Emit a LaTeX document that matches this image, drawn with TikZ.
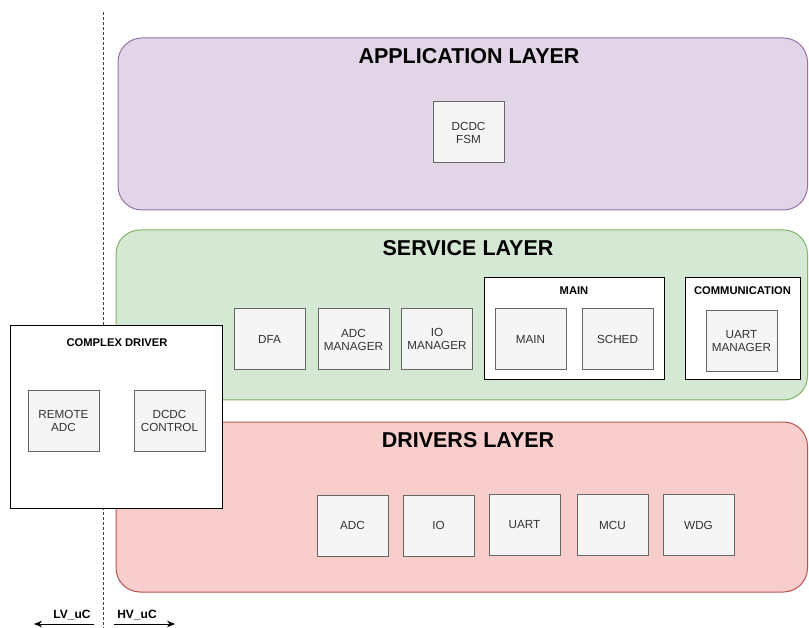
\documentclass[tikz,border=0pt]{standalone}
\usepackage{fontspec}
\setmainfont{Liberation Sans}
\usetikzlibrary{arrows.meta}

\definecolor{appfill}{HTML}{E1D5E7}
\definecolor{appline}{HTML}{9673A6}
\definecolor{srvfill}{HTML}{D5E8D4}
\definecolor{srvline}{HTML}{82B366}
\definecolor{drvfill}{HTML}{F8CECC}
\definecolor{drvline}{HTML}{B85450}
\definecolor{boxfill}{HTML}{F5F5F5}
\definecolor{boxline}{HTML}{666666}
\definecolor{boxtext}{HTML}{333333}
\definecolor{sepline}{HTML}{444444}

\tikzset{
  layer/.style={rounded corners=24pt, line width=1pt, inner sep=0pt},
  layertitle/.style={font=\bfseries\fontsize{21.5}{24}\selectfont, inner sep=0pt},
  unit/.style={draw=boxline, fill=boxfill, line width=1pt, text=boxtext,
    minimum width=71pt, minimum height=61pt, inner sep=0pt, align=center,
    font=\fontsize{11.7}{13}\selectfont},
  group/.style={draw=black, fill=white, line width=1pt, inner sep=0pt},
  grouptitle/.style={font=\bfseries\fontsize{11.2}{13}\selectfont, inner sep=0pt},
  sidelabel/.style={font=\bfseries\fontsize{12}{14}\selectfont, inner sep=0pt, anchor=base},
  sidearrow/.style={-{Stealth[length=8pt,width=6.5pt]}, line width=1pt},
}

\begin{document}
\begin{tikzpicture}[x=1pt,y=-1pt]
\useasboundingbox (0,0) rectangle (809,628);

% boundary between the two microcontrollers
\coordinate (sepTop) at (103,12);
\coordinate (sepBot) at (103,628);
\draw[sepline, line width=1pt, dash pattern=on 3pt off 2pt] (sepTop) -- (sepBot);

% layers
\node[layer, draw=appline, fill=appfill, minimum width=689.5pt, minimum height=172pt] (app) at (462.75,124) {};
\node[layer, draw=srvline, fill=srvfill, minimum width=691.5pt, minimum height=170pt] (srv) at (461.75,315) {};
\node[layer, draw=drvline, fill=drvfill, minimum width=691.5pt, minimum height=170pt] (drv) at (461.75,507) {};

\node[layertitle] (appTitle) at (469,56) {APPLICATION LAYER};
\node[layertitle] (srvTitle) at (468,248) {SERVICE LAYER};
\node[layertitle] (drvTitle) at (468,440) {DRIVERS LAYER};

% application layer
\node[unit] (fsm) at (468.5,132.5) {DCDC\\FSM};

% service layer
\node[unit] (dfa) at (269.5,339.5) {DFA};
\node[unit] (adcMgr) at (353.5,339.5) {ADC\\MANAGER};
\node[unit] (ioMgr) at (437,339) {IO\\MANAGER};

\node[group, minimum width=180pt, minimum height=102pt] (mainGroup) at (574,329) {};
\node[grouptitle] (mainTitle) at (574,291) {MAIN};
\node[unit] (mainBox) at (530.5,339.5) {MAIN};
\node[unit] (sched) at (617.5,339.5) {SCHED};

\node[group, minimum width=115pt, minimum height=102pt] (commGroup) at (742.5,329) {};
\node[grouptitle] (commTitle) at (742.5,291) {COMMUNICATION};
\node[unit] (uartMgr) at (741.5,341.5) {UART\\MANAGER};

% drivers layer
\node[unit] (adc) at (352.5,525.5) {ADC};
\node[unit] (io) at (438.5,525.5) {IO};
\node[unit] (uart) at (524.5,525) {UART};
\node[unit] (mcu) at (612.5,525) {MCU};
\node[unit] (wdg) at (698.5,525) {WDG};

% complex driver spanning both controllers
\node[group, minimum width=212pt, minimum height=182pt] (cdd) at (116,417) {};
\node[grouptitle] (cddTitle) at (117,343) {COMPLEX DRIVER};
\node[unit] (remoteAdc) at (63.5,421) {REMOTE\\ADC};
\node[unit] (dcdcCtrl) at (169.5,421) {DCDC\\CONTROL};

% controller labels
\node[sidelabel] (lv) at (72,618) {LV\_uC};
\node[sidelabel] (hv) at (137,618) {HV\_uC};
\coordinate (lvStart) at (94,624);
\coordinate (lvEnd) at (34,624);
\coordinate (hvStart) at (114,624);
\coordinate (hvEnd) at (175,624);
\draw[sidearrow] (lvStart) -- (lvEnd);
\draw[sidearrow] (hvStart) -- (hvEnd);
\end{tikzpicture}
\end{document}
